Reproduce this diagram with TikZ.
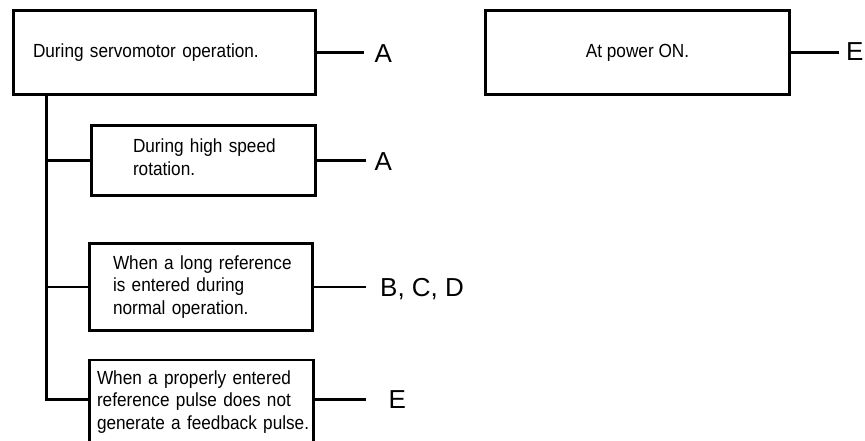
\documentclass[tikz,border=0pt]{standalone}
\usepackage{fontspec}
\setmainfont{Liberation Sans}
\newfontfamily\condfont{Liberation Sans}[FakeStretch=0.905]

\begin{document}
\begin{tikzpicture}[x=1pt,y=-1pt,line width=2.8pt,line cap=rect,
  every node/.style={inner sep=0pt},
  cond/.style={draw,rectangle,align=left,font=\condfont\fontsize{19}{22.5}\selectfont},
  lbl/.style={anchor=west,font=\fontsize{26}{30}\selectfont,text height=18.6pt,text depth=0pt}]
  \useasboundingbox (0,0) rectangle (865,440);
  \clip (0,0) rectangle (865,440);
  \node[cond,text width=263pt,inner xsep=19.5pt,minimum height=84pt] (servo) at (164.5,52.5) {\mbox{During servomotor operation.}};
  \node[cond,text width=141pt,inner xsep=41.5pt,minimum height=70pt,text depth=29.4pt] (rot) at (203.5,160.5) {\mbox{During high speed}\\\mbox{rotation.}};
  \node[cond,text width=176pt,inner xsep=23.5pt,minimum height=87pt] (longref) at (201,287) {\mbox{When a long reference}\\\mbox{is entered during}\\\mbox{normal operation.}};
  \node[cond,text width=209pt,inner xsep=7.5pt,minimum height=84pt] (pulse) at (201.5,402) {\mbox{When a properly entered}\\\mbox{reference pulse does not}\\\mbox{generate a feedback pulse.}};
  \node[cond,align=center,minimum width=304pt,minimum height=84pt] (power) at (637.5,52.5) {At power ON.};
  \node[lbl] (a1) at (373.3,53.3) {A};
  \node[lbl] (a2) at (373.3,161.5) {A};
  \node[lbl] (bcd) at (378.8,286.7) {B, C, D};
  \node[lbl] (e4) at (387.3,399.3) {E};
  \node[lbl] (e5) at (844.6,51.5) {E};
  \coordinate (trunk) at (46.5,399.3);
  \draw (trunk |- servo.south) -- (trunk) -- (trunk -| pulse.west);
  \draw (trunk |- rot.west) -- (rot.west);
  \draw (trunk |- longref.west) -- (longref.west);
  \draw[shorten >=10.3pt] (servo.east) -- (servo.east -| a1.west);
  \draw[shorten >=8.3pt] (rot.east) -- (rot.east -| a2.west);
  \draw[shorten >=13.8pt] (longref.east) -- (longref.east -| bcd.west);
  \draw[shorten >=22.3pt] (pulse.east |- e4.west) -- (e4.west);
  \draw[shorten >=6.9pt] (power.east) -- (power.east -| e5.west);
\end{tikzpicture}
\end{document}
